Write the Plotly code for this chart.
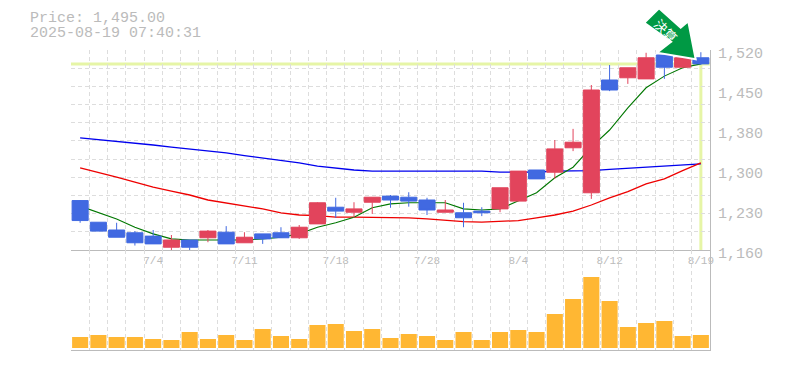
import plotly.graph_objects as go

dates = ["6/30","7/1","7/2","7/3","7/4","7/7","7/8","7/9","7/10","7/11","7/14","7/15","7/16","7/17","7/18",
         "7/22","7/23","7/24","7/25","7/28","7/29","7/30","7/31","8/1","8/4","8/5","8/6","8/7","8/8","8/12",
         "8/13","8/14","8/15","8/18","8/19"]
open_ = [1249,1210,1196,1191,1185,1165,1178,1182,1192,1173,1189,1191,1182,1207,1237,1228,1246,1257,1255,1250,
         1228,1227,1230,1234,1248,1304,1300,1344,1263,1466,1470,1468,1511,1489,1506]
high = [1250,1210,1209,1194,1196,1187,1178,1196,1203,1192,1189,1201,1205,1246,1254,1246,1255,1259,1264,1254,
        1250,1245,1237,1272,1302,1304,1358,1378,1457,1493,1488,1515,1516,1506,1516]
low = [1209,1194,1183,1168,1171,1160,1160,1174,1171,1173,1171,1182,1180,1207,1218,1218,1225,1236,1238,1223,
       1228,1201,1221,1228,1248,1288,1288,1338,1252,1446,1459,1468,1468,1489,1493]
close = [1213,1194,1183,1173,1171,1178,1165,1194,1171,1183,1180,1182,1201,1245,1230,1234,1255,1250,1248,1232,
         1232,1218,1227,1272,1302,1288,1342,1354,1448,1448,1488,1506,1489,1506,1495]
ma_short = [1239,1227,1216,1201,1189,1180,1178,1178,1178,1178,1180,1183,1189,1201,1209,1219,1236,1243,1245,1245,
            1245,1234,1232,1234,1248,1263,1290,1309,1345,1376,1416,1452,1473,1488,1495]
ma_mid = [1308,1300,1291,1282,1273,1266,1259,1250,1245,1239,1234,1227,1223,1222,1219,1219,1219,1219,1218,1216,
          1213,1211,1210,1211,1213,1218,1223,1230,1241,1254,1265,1279,1288,1303,1317]
ma_long = [1362,1359,1356,1353,1349,1345,1342,1338,1335,1330,1326,1322,1317,1311,1307,1304,1302,1302,1301,1301,
           1302,1302,1302,1300,1300,1300,1302,1302,1303,1305,1307,1309,1311,1312,1315]
volume = [33,39,33,33,27,24,48,27,39,24,57,36,27,69,72,51,57,30,42,36,24,48,24,48,54,48,102,147,213,141,63,75,81,36,39]

x_labels = {"7/4":"7/4","7/11":"7/11","7/18":"7/18","7/28":"7/28","8/4":"8/4","8/12":"8/12","8/19":"8/19"}
y_ticks = [1160,1232,1304,1376,1448,1520]
y_text = ["1,160","1,230","1,300","1,380","1,450","1,520"]
price_now = 1495
title_lines = ["Price: 1,495.00","2025-08-19 07:40:31"]
badge_text = "決算"

RED="#e2445c"; BLUE="#4169e1"; ORANGE="#ffb733"; LIME="#e6f5a6"; GRID="#dddddd"; AXIS="#bbbbbb"; TXT="#bbbbbb"; ARROW="#009944"
MONO="Liberation Mono"

fig = go.Figure()
for vals,col,w in [(ma_long,"#0000ee",1.3),(ma_mid,"#ee0000",1.3),(ma_short,"#007700",1.1)]:
    fig.add_trace(go.Scatter(x=dates,y=vals,mode="lines",line=dict(color=col,width=w),xaxis="x",yaxis="y",showlegend=False))
fig.add_trace(go.Candlestick(x=dates,open=open_,high=high,low=low,close=close,
    increasing=dict(line=dict(color=RED,width=1),fillcolor=RED),
    decreasing=dict(line=dict(color=BLUE,width=1),fillcolor=BLUE),
    whiskerwidth=0,xaxis="x3",yaxis="y3",showlegend=False))
fig.add_trace(go.Bar(x=dates,y=volume,marker=dict(color=ORANGE,line=dict(width=0)),xaxis="x2",yaxis="y2",showlegend=False))

n=len(dates)
xr=[-0.5,n-0.5]
xcommon=dict(type="category",categoryorder="array",categoryarray=dates,range=xr,tickson="boundaries",
             showgrid=True,gridcolor=GRID,griddash="4px,3px",gridwidth=1,zeroline=False,ticks="",tickangle=0,
             rangeslider=dict(visible=False),fixedrange=True)
tt=[x_labels.get(d,"") for d in dates]
layout=dict(width=769,height=354,margin=dict(l=63,r=67,t=42,b=12,pad=0),paper_bgcolor="white",plot_bgcolor="white",
    boxgap=0.12,boxgroupgap=0,bargap=0.12,showlegend=False,
    xaxis=dict(**xcommon,domain=[0,1],anchor="y",tickmode="array",tickvals=dates,ticktext=tt,
               tickfont=dict(family=MONO,size=11,color=TXT),showline=True,linecolor=AXIS,linewidth=1,automargin=False),
    yaxis=dict(domain=[1/3,1],range=[1160,1520],side="right",anchor="x",tickmode="array",tickvals=y_ticks,ticktext=y_text,
               tickfont=dict(family=MONO,size=15,color=TXT),showgrid=False,zeroline=False,showline=True,linecolor=AXIS,linewidth=1,
               ticklabelshift=3,ticklabelstandoff=4,automargin=False,
               minor=dict(tick0=1160,dtick=360/11,showgrid=True,gridcolor=GRID,griddash="4px,3px",gridwidth=1,ticks="")),
    xaxis2=dict(**xcommon,domain=[0,1],anchor="y2",tickmode="array",tickvals=dates,ticktext=[""]*n,showline=True,linecolor=AXIS,linewidth=1),
    yaxis2=dict(domain=[0,1/3],range=[-6,294],side="right",anchor="x2",showticklabels=False,showgrid=False,zeroline=False,ticks="",
                showline=True,linecolor=AXIS,linewidth=1),
    xaxis3=dict(type="category",categoryorder="array",categoryarray=dates,range=xr,overlaying="x",anchor="y3",visible=False,
                rangeslider=dict(visible=False)),
    yaxis3=dict(domain=[1/3,1],range=[1160,1520],overlaying="y",anchor="x3",side="right",visible=False),
)
fig.update_layout(**layout)

fig.add_shape(type="line",xref="x domain",yref="y",x0=0,x1=1,y0=price_now,y1=price_now,line=dict(color=LIME,width=3),layer="below")
fig.add_shape(type="line",xref="x",yref="y",x0=dates[-1],x1=dates[-1],y0=1160,y1=price_now,line=dict(color=LIME,width=3),layer="below")

# page pixels -> plot fractions (plot area spans 71..710 x 50..350 on the page)
def fx(px): return (px-71)/639
def fy(py): return (350-py)/300

for line,cy in zip(title_lines,[18.5,33.5]):
    fig.add_annotation(xref="paper",yref="paper",x=fx(28),y=fy(cy),xanchor="left",yanchor="middle",text=line,showarrow=False,align="left",
                       font=dict(family=MONO,size=15,color=TXT))

pts=[(644.3,22.7),(659,8.3),(680.7,27.7),(688.3,21.3),(695.7,59.3),(657,52.7),(671,41.7)]
path="M "+" L ".join(f"{fx(a):.4f} {fy(b):.4f}" for a,b in pts)+" Z"
fig.add_shape(type="path",xref="paper",yref="paper",path=path,fillcolor=ARROW,line=dict(color="white",width=2),layer="above")
fig.add_annotation(xref="paper",yref="paper",x=fx(666),y=fy(30.5),xanchor="center",yanchor="middle",text=badge_text,textangle=45,showarrow=False,
                   font=dict(family="Noto Sans CJK JP",size=13,color="white"))

fig.write_html("out.html")
